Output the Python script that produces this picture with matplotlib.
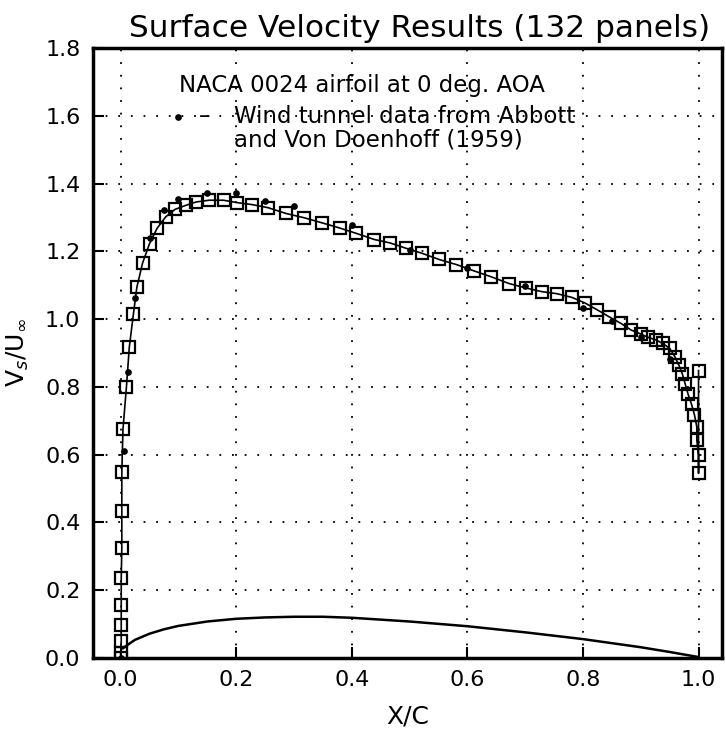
import matplotlib
matplotlib.use("Agg")
import matplotlib.pyplot as plt

# Panel-method surface velocity (squares), leading edge -> trailing edge
panel_x = [0.0, 0.0, 0.001, 0.001, 0.001, 0.001, 0.002, 0.002, 0.002, 0.004,
           0.010, 0.015, 0.022, 0.028, 0.038, 0.050, 0.063, 0.078, 0.094, 0.113,
           0.131, 0.153, 0.178, 0.201, 0.228, 0.255, 0.286, 0.318, 0.349, 0.379,
           0.408, 0.439, 0.466, 0.494, 0.522, 0.551, 0.581, 0.612, 0.641, 0.672,
           0.701, 0.729, 0.755, 0.781, 0.803, 0.825, 0.845, 0.866, 0.883, 0.900,
           0.913, 0.927, 0.938, 0.950, 0.959, 0.966, 0.972, 0.977, 0.982, 0.988,
           0.993, 0.997, 0.997, 1.0, 1.0, 1.0]
panel_v = [0.0, 0.014, 0.048, 0.097, 0.156, 0.235, 0.325, 0.432, 0.548, 0.675,
           0.800, 0.918, 1.014, 1.094, 1.166, 1.223, 1.268, 1.302, 1.324, 1.336,
           1.346, 1.351, 1.351, 1.344, 1.338, 1.329, 1.312, 1.299, 1.284, 1.269,
           1.253, 1.235, 1.225, 1.209, 1.194, 1.176, 1.161, 1.142, 1.125, 1.105,
           1.092, 1.081, 1.075, 1.064, 1.048, 1.027, 1.007, 0.987, 0.968, 0.956,
           0.946, 0.938, 0.928, 0.914, 0.889, 0.864, 0.838, 0.808, 0.778, 0.748,
           0.717, 0.682, 0.643, 0.599, 0.545, 0.848]

# Wind tunnel data (Abbott and Von Doenhoff, 1959)
wt_x = [0.0, 0.005, 0.0125, 0.025, 0.05, 0.075, 0.10, 0.15, 0.20, 0.25, 0.30,
        0.40, 0.50, 0.60, 0.70, 0.80, 0.85, 0.90, 0.95]
wt_v = [0.0, 0.61, 0.845, 1.061, 1.240, 1.322, 1.354, 1.373, 1.371, 1.349, 1.334,
        1.277, 1.204, 1.152, 1.099, 1.032, 0.995, 0.946, 0.881]

# Airfoil upper surface (NACA 0024) shape
foil_x = [0.004, 0.012, 0.025, 0.05, 0.075, 0.10, 0.15, 0.20, 0.25, 0.30, 0.35,
          0.40, 0.50, 0.60, 0.70, 0.80, 0.90, 0.95, 1.0]
foil_y = [0.028, 0.038, 0.053, 0.071, 0.084, 0.094, 0.107, 0.115, 0.119, 0.121,
          0.121, 0.118, 0.107, 0.093, 0.075, 0.055, 0.031, 0.017, 0.002]

xticks = [0.0, 0.2, 0.4, 0.6, 0.8, 1.0]
yticks = [0.0, 0.2, 0.4, 0.6, 0.8, 1.0, 1.2, 1.4, 1.6, 1.8]

fig = plt.figure(figsize=(7.26, 7.30), dpi=100)
ax = fig.add_axes([0.128, 0.099, 0.866, 0.835])

ax.plot(panel_x, panel_v, color="black", lw=1.2, marker="s", ms=9,
        mfc="none", mec="black", mew=1.6, zorder=3)
ax.plot(wt_x, wt_v, ls="none", marker="o", ms=3.8, color="black", zorder=4)
ax.plot(foil_x, foil_y, color="black", lw=1.8, zorder=3)

ax.set_xlim(-0.048, 1.04)
ax.set_ylim(0.0, 1.8)
ax.set_xticks(xticks)
ax.set_yticks(yticks)
ax.set_xticklabels([f"{v:.1f}" for v in xticks])
ax.set_yticklabels([f"{v:.1f}" for v in yticks])
ax.grid(True, color="black", ls=(0, (1, 6)), lw=1.3)
ax.tick_params(direction="in", length=8, width=1.5, labelsize=16, pad=9)
for s in ax.spines.values():
    s.set_linewidth(2.5)

ax.set_title("Surface Velocity Results (132 panels)", fontsize=22.5, pad=8,
             x=0.52)
ax.set_xlabel("X/C", fontsize=18, labelpad=10)
ax.set_ylabel(r"V$_s$/U$_\infty$", fontsize=18, labelpad=10)

ax.text(0.417, 1.69, "NACA 0024 airfoil at 0 deg. AOA", fontsize=16.5,
        ha="center", va="center")
ax.plot([0.099], [1.597], marker="o", ms=3.8, color="black")
ax.text(0.145, 1.597, "\u2013", fontsize=16.5, ha="center", va="center")
ax.text(0.196, 1.597, "Wind tunnel data from Abbott", fontsize=16.5,
        ha="left", va="center")
ax.text(0.196, 1.528, "and Von Doenhoff (1959)", fontsize=16.5,
        ha="left", va="center")

fig.savefig("out.png", dpi=100)
